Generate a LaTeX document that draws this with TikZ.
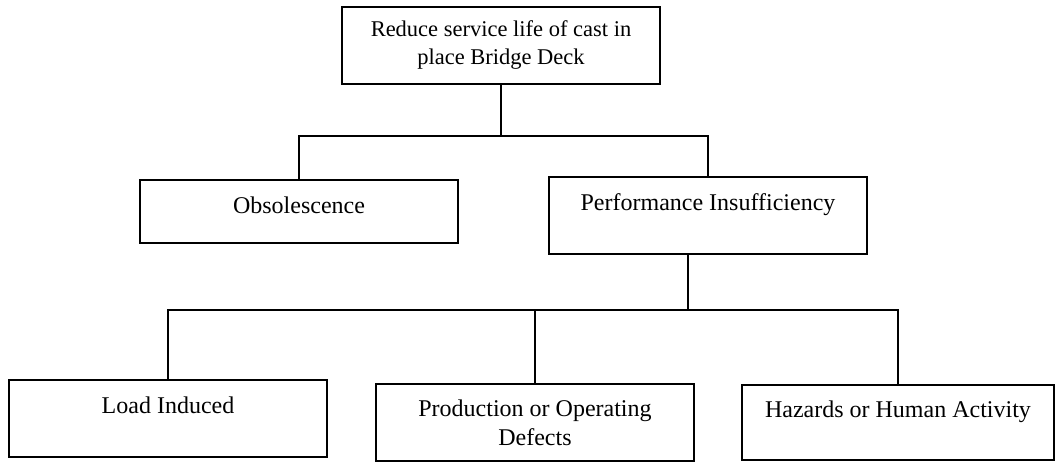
\documentclass[tikz,border=0pt]{standalone}
\usepackage{fontspec}
\setmainfont{Liberation Serif}
\usepackage{tikz}

\begin{document}
\begin{tikzpicture}[x=1pt,y=-1pt,line width=2pt,
  main node/.style={rectangle,draw,minimum width=318pt,minimum height=77pt,
    inner sep=0pt,align=center,font=\fontsize{24}{29}\selectfont},
  upper/.style={text height=16pt,text depth=26pt}]

  \useasboundingbox (0,0) rectangle (1055,462);

  \node[main node,font=\fontsize{22.5}{28}\selectfont] (1) at (501,45.5)
    {Reduce service life of cast in\\place Bridge Deck};
  \node[main node,minimum height=63pt,text height=16pt,text depth=12pt] (2) at (299,211.5) {Obsolescence};
  \node[main node,upper] (3) at (708,216) {Performance Insufficiency};
  \node[main node,upper] (4) at (168,418.5) {Load Induced};
  \node[main node] (5) at (535,422.5) {Production or Operating\\Defects};
  \node[main node,upper,minimum width=312pt,minimum height=75pt] (6) at (898,422.5) {Hazards or Human Activity};

  \coordinate (3b) at ([xshift=-20pt]3.south);

  \draw (1.south) -- ++(0,51) -| (2.north);
  \draw (1.south) -- ++(0,51) -| (3.north);
  \draw (3b) -- ++(0,55) -| (4.north);
  \draw (3b) -- ++(0,55) -| (5.north);
  \draw (3b) -- ++(0,55) -| (6.north);
\end{tikzpicture}
\end{document}
